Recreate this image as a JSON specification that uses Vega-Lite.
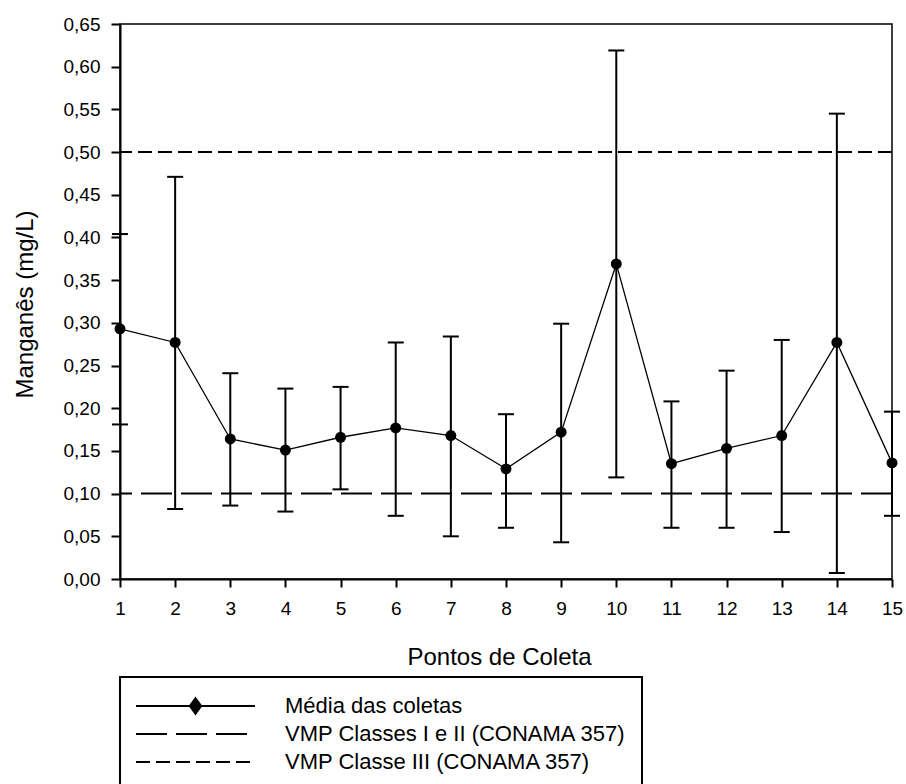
{
  "$schema": "https://vega.github.io/schema/vega-lite/v6.json",
  "autosize": {"type": "none"},
  "padding": {"left": 120, "top": 24, "right": 14, "bottom": 205},
  "width": 772,
  "height": 555,
  "config": {
    "font": "Liberation Sans",
    "view": {"stroke": "black", "strokeWidth": 1.5}
  },
  "data": {
    "values": [
      {"ponto": 1, "media": 0.293, "min": 0.181, "max": 0.404},
      {"ponto": 2, "media": 0.277, "min": 0.082, "max": 0.471},
      {"ponto": 3, "media": 0.164, "min": 0.086, "max": 0.241},
      {"ponto": 4, "media": 0.151, "min": 0.079, "max": 0.223},
      {"ponto": 5, "media": 0.166, "min": 0.105, "max": 0.225},
      {"ponto": 6, "media": 0.177, "min": 0.074, "max": 0.277},
      {"ponto": 7, "media": 0.168, "min": 0.050, "max": 0.284},
      {"ponto": 8, "media": 0.129, "min": 0.060, "max": 0.193},
      {"ponto": 9, "media": 0.172, "min": 0.043, "max": 0.299},
      {"ponto": 10, "media": 0.369, "min": 0.119, "max": 0.619},
      {"ponto": 11, "media": 0.135, "min": 0.060, "max": 0.208},
      {"ponto": 12, "media": 0.153, "min": 0.060, "max": 0.244},
      {"ponto": 13, "media": 0.168, "min": 0.055, "max": 0.280},
      {"ponto": 14, "media": 0.277, "min": 0.007, "max": 0.545},
      {"ponto": 15, "media": 0.136, "min": 0.074, "max": 0.196}
    ]
  },
  "layer": [
    {
      "data": {
        "values": [
          {"serie": "VMP Classes I e II (CONAMA 357)", "valor": 0.1},
          {"serie": "VMP Classe III (CONAMA 357)", "valor": 0.5}
        ]
      },
      "mark": {"type": "rule", "stroke": "black", "strokeWidth": 2},
      "encoding": {
        "y": {
          "field": "valor", "type": "quantitative", "title": "Manganês (mg/L)",
          "scale": {"domain": [0, 0.65], "nice": false, "zero": true},
          "axis": {
            "values": [0, 0.05, 0.1, 0.15, 0.2, 0.25, 0.3, 0.35, 0.4, 0.45, 0.5, 0.55, 0.6, 0.65],
            "labelExpr": "replace(format(datum.value, '.2f'), '.', ',')",
            "labelFontSize": 19, "labelColor": "black", "labelPadding": 11,
            "tickSize": 9, "tickWidth": 2, "tickColor": "black",
            "domainColor": "black", "domainWidth": 2, "grid": false,
            "labelFlush": false, "labelOverlap": false,
            "titleFontSize": 24, "titleFontWeight": "normal", "titleColor": "black",
            "titleAngle": 270, "titleBaseline": "alphabetic", "titleAlign": "center",
            "titleX": -88, "titleY": 280
          }
        },
        "strokeDash": {
          "field": "serie", "type": "nominal",
          "scale": {
            "domain": ["Média das coletas", "VMP Classes I e II (CONAMA 357)", "VMP Classe III (CONAMA 357)"],
            "range": [[1, 0], [31, 9], [14, 6]]
          },
          "legend": {
            "title": null, "orient": "none", "legendX": 0, "legendY": 653,
            "direction": "vertical", "padding": 15, "strokeColor": "black",
            "symbolSize": 14161, "symbolStrokeWidth": 2, "symbolStrokeColor": "black",
            "symbolFillColor": "black", "symbolOffset": 0, "labelOffset": 29,
            "labelFontSize": 22, "labelColor": "black", "labelLimit": 700,
            "rowPadding": 0, "clipHeight": 28,
            "encode": {
              "legend": {"update": {"strokeWidth": {"value": 2}}},
              "symbols": {
                "update": {
                  "shape": {"signal": "datum.value === 'Média das coletas' ? 'M-1,0H1M0,-0.13L0.095,0L0,0.13L-0.095,0Z' : 'M-1,0H1'"},
                  "fill": {"value": "black"},
                  "stroke": {"value": "black"},
                  "strokeWidth": {"value": 2},
                  "opacity": {"value": 1}
                }
              }
            }
          }
        }
      }
    },
    {
      "mark": {"type": "rule", "stroke": "black", "strokeWidth": 2},
      "encoding": {
        "x": {
          "field": "ponto", "type": "quantitative", "title": "Pontos de Coleta",
          "scale": {"domain": [1, 15], "nice": false, "zero": false},
          "axis": {
            "values": [1, 2, 3, 4, 5, 6, 7, 8, 9, 10, 11, 12, 13, 14, 15],
            "format": "d", "labelFontSize": 19, "labelColor": "black", "labelPadding": 12,
            "tickSize": 8, "tickWidth": 2, "tickColor": "black",
            "domainColor": "black", "domainWidth": 2, "grid": false,
            "labelFlush": false, "labelOverlap": false,
            "titleFontSize": 24, "titleFontWeight": "normal", "titleColor": "black",
            "titleBaseline": "alphabetic", "titleAlign": "center",
            "titleX": 379, "titleY": 85
          }
        },
        "y": {"field": "min", "type": "quantitative", "title": "Manganês (mg/L)"},
        "y2": {"field": "max"}
      }
    },
    {
      "mark": {"type": "tick", "orient": "horizontal", "color": "black", "thickness": 2, "size": 16, "opacity": 1},
      "encoding": {
        "x": {"field": "ponto", "type": "quantitative", "title": "Pontos de Coleta"},
        "y": {"field": "min", "type": "quantitative", "title": "Manganês (mg/L)"}
      }
    },
    {
      "mark": {"type": "tick", "orient": "horizontal", "color": "black", "thickness": 2, "size": 16, "opacity": 1},
      "encoding": {
        "x": {"field": "ponto", "type": "quantitative", "title": "Pontos de Coleta"},
        "y": {"field": "max", "type": "quantitative", "title": "Manganês (mg/L)"}
      }
    },
    {
      "mark": {"type": "line", "stroke": "black", "strokeWidth": 1.3},
      "encoding": {
        "x": {"field": "ponto", "type": "quantitative", "title": "Pontos de Coleta"},
        "y": {"field": "media", "type": "quantitative", "title": "Manganês (mg/L)"}
      }
    },
    {
      "mark": {"type": "point", "shape": "circle", "filled": true, "color": "black", "size": 120, "opacity": 1},
      "encoding": {
        "x": {"field": "ponto", "type": "quantitative", "title": "Pontos de Coleta"},
        "y": {"field": "media", "type": "quantitative", "title": "Manganês (mg/L)"}
      }
    }
  ]
}
